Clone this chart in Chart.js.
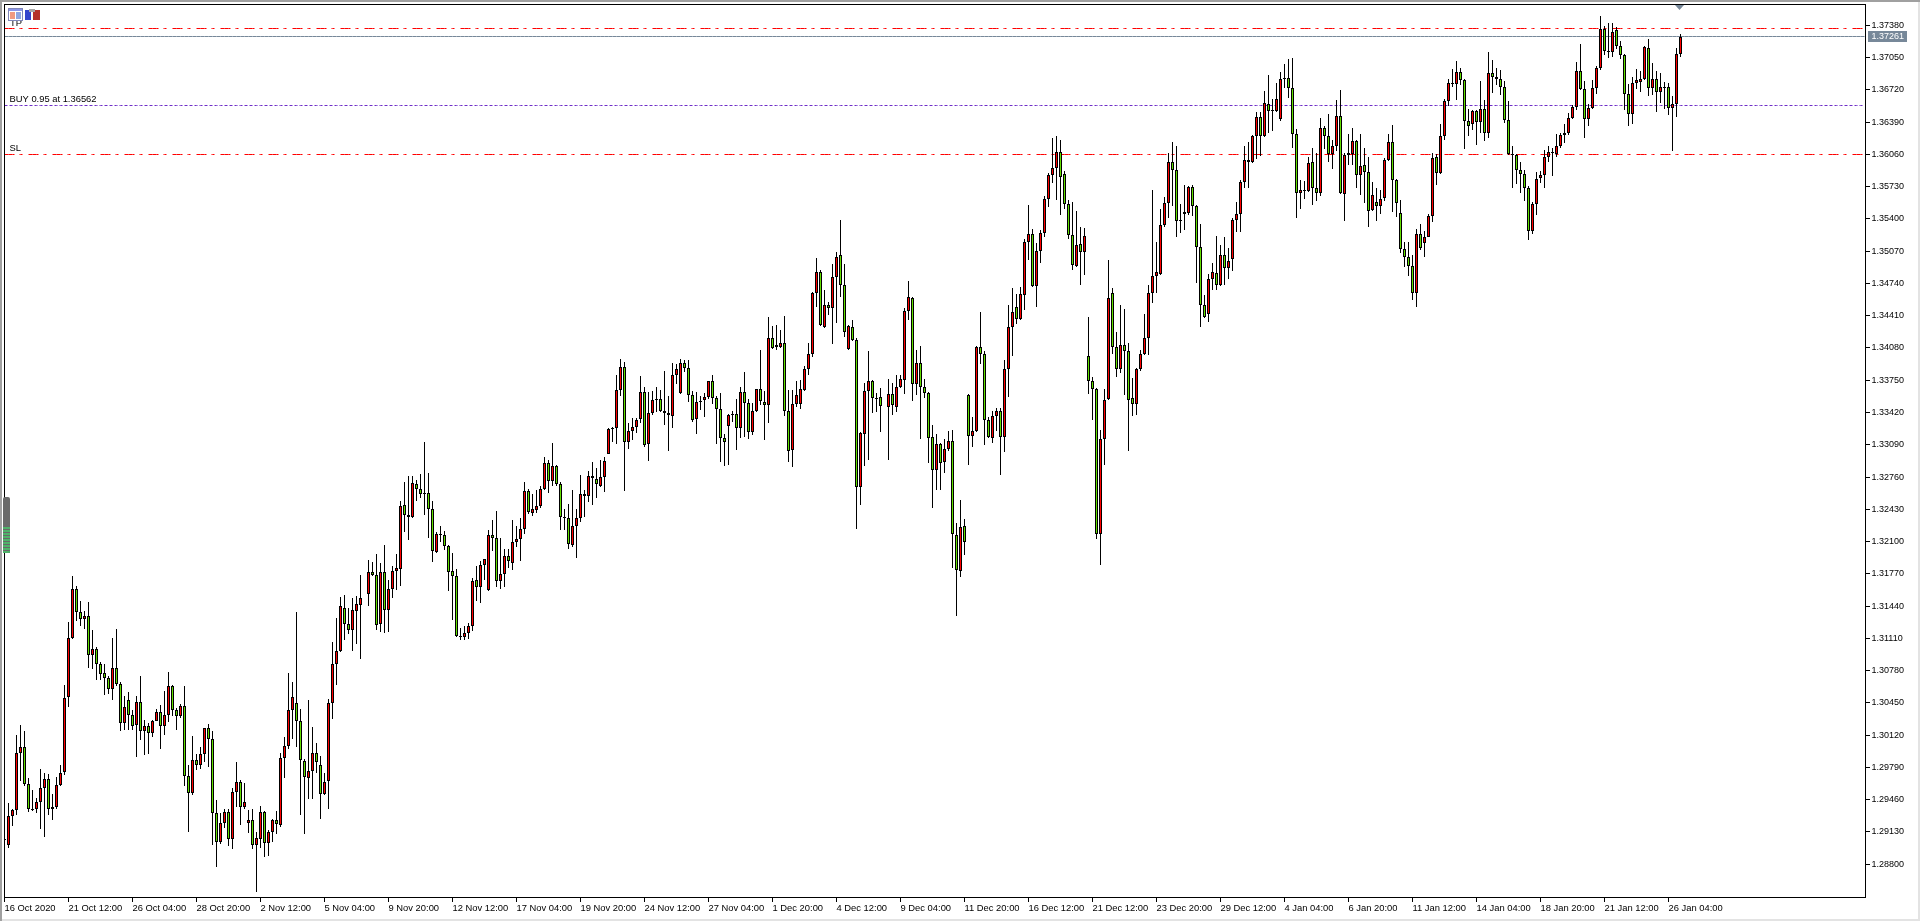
<!DOCTYPE html>
<html>
<head>
<meta charset="utf-8">
<title>USDCAD H4</title>
<style>
  html, body { margin: 0; padding: 0; background: #fff; }
  canvas { display: block; }
</style>
<script src="https://cdn.jsdelivr.net/npm/chart.js@4/dist/chart.umd.min.js"></script>
</head>
<body>
<canvas id="chart" width="1920" height="921"></canvas>
<script>
// candle values, in units of 0.0001 (12906 = 1.2906). null = no bar drawn there
const opens = [
12906,12900,12929,12935,12994,13000,12962,12937,12937,12944,12958,12967,12936,12939,12961,12974,
13051,13111,13161,13138,13131,13134,13094,13100,13085,13076,13070,13059,13081,13064,13024,13048,
13033,13022,13046,13016,13021,13014,13027,13036,13021,13033,13062,13038,13032,13042,12970,12953,
12987,12981,12993,13019,13008,12932,12903,12922,12933,12906,12954,12964,12939,12922,12925,12900,
12906,12933,12902,12913,12925,12920,12989,13001,13038,13045,13027,12986,12968,12975,12994,12982,
12952,12965,13045,13085,13098,13142,13126,13120,13139,13145,null,13156,13179,13176,13126,13179,
13140,13161,13180,13182,13247,13237,13235,13269,13264,13260,13260,13243,13199,13218,13217,13205,
13180,13175,13113,13112,13116,13124,13171,13164,13186,13160,13217,13214,13170,13177,13195,13188,
13210,13213,13223,13262,13239,13242,13246,13264,13290,13272,13287,13269,13235,13234,13207,13226,
13234,13259,13257,13277,13274,13267,13276,13300,13326,13326,13365,13389,13312,13323,13327,13335,
13363,13310,13342,13356,13356,13344,13342,13338,13380,13362,13393,13388,13360,13335,13354,13355,
13358,13374,13357,13346,13316,13328,13340,13340,13326,13363,13352,13322,13344,13366,13353,13350,
13418,13411,13409,13413,13344,13304,13351,13351,13365,13387,13402,13464,13486,13429,13452,13449,
13481,13503,13472,13407,13429,13416,13266,13320,13364,13374,13357,13358,null,13348,13361,13348,
13368,13375,13446,13459,13371,13393,13368,13362,13317,13283,13310,13291,13305,13313,13217,13180,
13226,13360,13318,13323,13409,13402,13334,13316,13338,13344,13317,13386,13429,13450,13438,13462,
13516,13525,13471,13507,13526,13560,13585,13592,13608,13586,13555,13524,13492,13514,13506,13400,
13374,13366,13218,13315,13356,13464,13409,13387,13411,13405,13357,13351,13387,13402,13418,13464,
13482,13484,13534,13556,13598,13590,13539,13545,13546,13573,13553,13511,13452,13443,13479,13485,
13472,13503,13490,13499,13539,13545,13578,13600,13598,13625,13644,13625,13658,13651,13650,13642,
13684,13684,13674,13627,13566,13570,13569,13598,13572,13567,13633,13625,13606,13615,13645,13565,
13605,13606,13620,13585,13595,13588,13549,13557,13553,13561,13600,13619,13580,13546,13509,13501,
13492,13464,13525,13515,13522,13543,13603,13587,13625,13661,13679,13678,13690,13682,13640,13637,
13650,13639,13652,13628,13689,13685,13683,13675,13641,13606,13605,13590,13586,13572,13528,13555,
13582,13585,13603,13608,13606,13615,13626,13628,13643,13654,13691,13673,13642,13653,13674,13694,
13734,13712,13711,13733,13717,13708,13668,13647,13679,13680,13683,13715,13674,13683,13670,13675,
13675,13653,13658,13709
];
const highs = [
12907,12943,12937,13012,13022,13016,12968,12956,12948,12977,12973,12972,12952,12969,12981,13063,
13128,13175,13165,13149,13139,13148,13120,13102,13087,13085,13073,13111,13121,13066,13052,13056,
13038,13052,13073,13028,13024,13028,13039,13043,13057,13077,13063,13040,13044,13062,12981,13011,
12993,13000,13019,13023,13016,12946,12932,12937,12937,12958,12985,12966,12963,12935,12937,12913,
12940,12934,12915,12926,12934,12994,13010,13076,13066,13138,13039,12988,13048,13020,13004,12991,
12973,13049,13107,13132,13153,13155,13142,13152,13154,13176,null,13191,13189,13197,13188,13206,
13171,13185,13197,13252,13271,13277,13277,13273,13279,13312,13280,13251,13220,13226,13221,13206,
13198,13182,13122,13124,13127,13173,13185,13190,13192,13222,13232,13241,13214,13202,13202,13232,
13226,13234,13271,13264,13259,13263,13267,13296,13293,13311,13288,13271,13243,13248,13263,13243,
13278,13263,13282,13291,13285,13293,13296,13326,13327,13380,13397,13394,13331,13336,13336,13379,
13368,13363,13364,13368,13365,13384,13359,13393,13392,13397,13396,13396,13364,13363,13359,13362,
13374,13380,13359,13362,13320,13340,13344,13356,13368,13383,13356,13352,13366,13406,13364,13440,
13430,13431,13426,13441,13365,13365,13374,13375,13390,13413,13465,13500,13488,13467,13455,13494,
13506,13539,13494,13431,13437,13418,13322,13372,13405,13375,13362,13367,null,13376,13372,13380,
13380,13449,13477,13460,13406,13410,13376,13363,13329,13320,13311,13315,13323,13324,13229,13253,
13233,13361,13337,13410,13445,13405,13337,13344,13347,13347,13396,13452,13469,13463,13470,13519,
13554,13530,13515,13529,13563,13587,13623,13625,13621,13589,13559,13557,13548,13532,13531,13440,
13378,13367,13324,13366,13498,13469,13424,13452,13448,13413,13377,13388,13406,13443,13472,13570,
13516,13550,13562,13607,13619,13615,13555,13575,13574,13575,13554,13535,13462,13484,13495,13523,
13513,13521,13510,13541,13557,13580,13615,13619,13626,13649,13649,13671,13687,13663,13679,13690,
13698,13704,13705,13632,13580,13579,13603,13613,13607,13643,13635,13647,13621,13662,13672,13607,
13627,13633,13621,13627,13613,13603,13578,13572,13570,13602,13627,13636,13581,13559,13516,13516,
13503,13530,13535,13528,13545,13607,13606,13637,13663,13683,13693,13701,13694,13683,13652,13651,
13651,13681,13662,13711,13702,13694,13692,13681,13661,13615,13606,13598,13590,13574,13557,13588,
13589,13610,13615,13613,13627,13628,13637,13648,13656,13700,13719,13681,13658,13682,13696,13747,
13737,13740,13740,13736,13722,13709,13678,13685,13693,13691,13717,13724,13699,13691,13689,13680,
13679,13666,13715,13729
];
const lows = [
12904,12897,12919,12930,12965,12960,12933,12934,12932,12916,12908,12930,12925,12937,12960,12971,
13041,13110,13129,13124,13121,13081,13080,13068,13068,13053,13054,13048,13062,13016,13017,13017,
13017,12990,13007,12992,12993,13010,13026,12998,13012,13025,13032,13017,13030,12960,12913,12951,
12976,12977,12985,12979,12900,12877,12901,12917,12899,12896,12939,12920,12936,12912,12896,12852,
12897,12887,12888,12903,12911,12918,12968,12998,13008,13000,12930,12911,12947,12947,12973,12926,
12951,12936,13029,13063,13097,13109,13115,13098,13105,13090,null,13144,13175,13120,13118,13116,
13118,13152,13160,13165,13220,13212,13234,13251,13255,13237,13214,13189,13198,13210,13201,13159,
13130,13112,13109,13109,13110,13119,13149,13147,13171,13159,13200,13164,13162,13164,13183,13181,
13204,13190,13218,13238,13236,13239,13244,13263,13260,13267,13267,13222,13222,13202,13204,13193,
13230,13235,13250,13247,13255,13266,13261,13300,13312,13310,13359,13262,13305,13314,13321,13331,
13307,13292,13339,13343,13343,13329,13303,13326,13371,13361,13383,13353,13332,13320,13345,13337,
13356,13351,13310,13291,13287,13288,13332,13304,13316,13317,13315,13319,13343,13350,13314,13331,
13407,13406,13408,13338,13291,13286,13348,13346,13364,13380,13399,13450,13430,13428,13442,13412,
13434,13460,13419,13406,13415,13223,13247,13287,13293,13341,13343,13322,null,13293,13339,13343,
13367,13361,13437,13354,13360,13315,13357,13290,13244,13263,13263,13280,13303,13183,13134,13174,
13196,13288,13307,13322,13392,13309,13316,13311,13323,13278,13302,13358,13400,13433,13437,13447,
13498,13470,13450,13495,13521,13552,13577,13559,13544,13550,13519,13488,13491,13472,13483,13361,
13334,13213,13186,13288,13355,13402,13378,13382,13360,13303,13338,13339,13384,13401,13401,13454,
13464,13483,13532,13541,13553,13522,13526,13529,13544,13543,13474,13429,13439,13435,13467,13467,
13471,13472,13479,13487,13527,13527,13572,13572,13597,13601,13604,13624,13628,13630,13649,13640,
13674,13664,13613,13541,13550,13560,13568,13554,13558,13563,13612,13598,13591,13609,13565,13538,
13595,13595,13572,13564,13556,13532,13548,13538,13545,13558,13599,13547,13542,13505,13491,13482,
13457,13450,13508,13501,13521,13537,13575,13586,13621,13655,13675,13662,13677,13611,13625,13631,
13616,13628,13620,13623,13669,13677,13667,13638,13605,13572,13576,13566,13558,13518,13525,13544,
13577,13572,13598,13584,13603,13613,13618,13626,13642,13651,13672,13623,13635,13652,13668,13692,
13708,13705,13706,13714,13704,13651,13635,13637,13673,13670,13682,13666,13667,13649,13659,13652,
13646,13609,13644,13706
];
const closes = [
12905,12929,12935,12994,13000,12962,12937,12936,12944,12958,12967,12936,12939,12961,12973,13050,
13111,13161,13138,13131,13134,13094,13100,13085,13075,13070,13059,13081,13064,13024,13041,13033,
13021,13046,13016,13021,13014,13027,13036,13021,13033,13062,13038,13032,13042,12970,12953,12987,
12981,12993,13019,13008,12932,12903,12922,12933,12906,12954,12964,12939,12944,12925,12900,12907,
12933,12902,12913,12925,12921,12989,13001,13038,13051,13026,12987,12969,12975,12994,12985,12952,
12964,13045,13085,13098,13144,13126,13120,13140,13146,13152,null,13179,13176,13125,13179,13140,
13161,13180,13183,13246,13237,13235,13270,13264,13259,13259,13243,13200,13218,13217,13205,13179,
13175,13113,13113,13116,13124,13170,13164,13186,13192,13217,13214,13170,13177,13195,13190,13210,
13213,13223,13262,13240,13243,13246,13264,13290,13272,13287,13269,13235,13234,13208,13226,13234,
13259,13257,13277,13275,13269,13276,13292,13325,13325,13365,13389,13312,13323,13327,13334,13363,
13309,13342,13355,13355,13344,13342,13339,13380,13387,13393,13388,13360,13334,13353,13353,13358,
13374,13357,13346,13316,13312,13339,13339,13326,13363,13352,13322,13344,13366,13354,13350,13418,
13408,13409,13413,13344,13303,13351,13360,13366,13387,13402,13464,13486,13431,13452,13449,13481,
13501,13472,13424,13430,13416,13266,13321,13364,13374,13357,13356,13349,null,13361,13350,13368,
13376,13446,13460,13371,13393,13368,13362,13316,13283,13310,13290,13305,13313,13218,13181,13225,
13210,13318,13323,13409,13402,13334,13317,13338,13344,13317,13386,13429,13445,13438,13463,13516,
13525,13471,13507,13526,13560,13585,13592,13608,13583,13555,13524,13493,13513,13506,13523,13374,
13366,13218,13315,13355,13459,13409,13387,13411,13405,13355,13351,13387,13402,13418,13464,13482,
13486,13534,13556,13598,13590,13538,13538,13547,13573,13553,13511,13452,13440,13479,13486,13472,
13503,13490,13497,13539,13545,13578,13600,13598,13625,13644,13625,13659,13650,13650,13663,13683,
13683,13674,13627,13566,13570,13569,13597,13572,13567,13633,13625,13606,13615,13645,13566,13605,
13607,13620,13585,13594,13588,13548,13564,13553,13560,13600,13619,13580,13556,13509,13501,13492,
13464,13525,13510,13522,13543,13602,13587,13625,13661,13679,13678,13690,13682,13640,13635,13650,
13639,13652,13628,13689,13685,13683,13675,13641,13606,13605,13590,13586,13572,13528,13555,13581,
13585,13603,13608,13607,13615,13626,13628,13643,13654,13691,13673,13642,13653,13674,13694,13734,
13712,13711,13731,13717,13708,13668,13647,13679,13682,13683,13716,13674,13683,13670,13675,13675,
13653,13658,13709,13726
];

// one label every 16 bars
const dateLabels = ['16 Oct 2020','21 Oct 12:00','26 Oct 04:00','28 Oct 20:00','2 Nov 12:00','5 Nov 04:00','9 Nov 20:00',
  '12 Nov 12:00','17 Nov 04:00','19 Nov 20:00','24 Nov 12:00','27 Nov 04:00','1 Dec 20:00','4 Dec 12:00','9 Dec 04:00',
  '11 Dec 20:00','16 Dec 12:00','21 Dec 12:00','23 Dec 20:00','29 Dec 12:00','4 Jan 04:00','6 Jan 20:00','11 Jan 12:00',
  '14 Jan 04:00','18 Jan 20:00','21 Jan 12:00','26 Jan 04:00'];
const priceTicks = [1.37380,1.37050,1.36720,1.36390,1.36060,1.35730,1.35400,1.35070,1.34740,1.34410,1.34080,1.33750,1.33420,
  1.33090,1.32760,1.32430,1.32100,1.31770,1.31440,1.31110,1.30780,1.30450,1.30120,1.29790,1.29460,1.29130,1.28800];

const tpLevel = 1.3735;
const buyLevel = 1.36562;
const slLevel = 1.3606;
const bidLevel = 1.37261;

const BAR_SLOTS = 466; // bars + empty space on the right of the last one
const labels = [];
for (let i = 0; i < BAR_SLOTS; i++) labels.push(i % 16 === 0 && dateLabels[i / 16] ? dateLabels[i / 16] : '');

const RED = '#ff0000';
const GREEN = '#62df00';
const FONT = '"Liberation Sans"';

function levelLine(value, color, dash) {
  return {
    type: 'line', order: 3, data: labels.map(() => value),
    borderColor: color, borderWidth: 1, borderDash: dash, pointRadius: 0, fill: false
  };
}

const overlay = {
  id: 'overlay',
  beforeDatasetsDraw(chart) {
    // keep candles and lines on whole pixels like the terminal does
    chart.getSortedVisibleDatasetMetas().forEach(meta => {
      meta.data.forEach(el => {
        if (meta.type === 'line') {
          el.y = Math.floor(el.y) + 0.5;
        } else {
          el.y = Math.round(el.y);
          el.base = Math.round(el.base);
          if (el.y === el.base) el.base = el.y + 1;
        }
      });
    });
  },
  afterDraw(chart) {
    const ctx = chart.ctx;
    const x = chart.scales.x;
    const y = chart.scales.y;
    ctx.save();

    // window edge
    ctx.fillStyle = '#a0a0a0';
    ctx.fillRect(0, 0, 1920, 2);
    ctx.fillRect(0, 0, 2, 921);
    ctx.fillStyle = '#e3e3e3';
    ctx.fillRect(1918, 2, 2, 919);
    ctx.fillRect(2, 919, 1918, 2);

    // chart frame and tick marks
    ctx.strokeStyle = '#000';
    ctx.lineWidth = 1;
    ctx.strokeRect(4.5, 4.5, 1861, 893);
    ctx.fillStyle = '#000';
    dateLabels.forEach((d, i) => {
      ctx.fillRect(Math.floor(x.getPixelForValue(i * 16)), 898, 1, 4);
    });
    priceTicks.forEach(p => {
      ctx.fillRect(1866, Math.floor(y.getPixelForValue(p)), 4, 1);
    });

    // object labels
    ctx.font = '9.4px ' + FONT;
    ctx.textAlign = 'left';
    ctx.textBaseline = 'alphabetic';
    ctx.fillText('TP', 10, 26);
    ctx.fillText('BUY 0.95 at 1.36562', 9.5, 102);
    ctx.fillText('SL', 9.5, 151);

    // current price tag
    ctx.fillStyle = '#778899';
    ctx.fillRect(1868, 31, 39, 11);
    ctx.fillStyle = '#fff';
    ctx.font = '9px ' + FONT;
    ctx.textBaseline = 'middle';
    ctx.fillText(bidLevel.toFixed(5), 1871.5, y.getPixelForValue(bidLevel) - 0.3);

    // marker on the top edge over the last bar
    ctx.fillStyle = '#778899';
    ctx.beginPath();
    ctx.moveTo(1675, 5);
    ctx.lineTo(1684, 5);
    ctx.lineTo(1679.5, 10);
    ctx.closePath();
    ctx.fill();

    // toolbar icons top left
    ctx.fillStyle = '#fff';
    ctx.fillRect(8, 8, 15, 13);
    ctx.strokeStyle = '#7f86b8';
    ctx.strokeRect(8.5, 8.5, 14, 12);
    ctx.fillStyle = '#8c96e8';
    ctx.fillRect(9, 9, 13, 2);
    ctx.fillStyle = '#f09a80';
    ctx.fillRect(10, 12, 5, 7);
    ctx.fillStyle = '#8fa6e0';
    ctx.fillRect(16, 12, 5, 7);
    ctx.fillStyle = '#3344cc';
    ctx.fillRect(25, 10, 6, 10);
    ctx.fillStyle = '#b5322a';
    ctx.fillRect(33, 10, 7, 10);
    ctx.fillStyle = '#a8a8a8';
    ctx.fillRect(29, 9, 6, 3);

    // one-click slider on the left edge
    ctx.fillStyle = '#6a6a6a';
    ctx.beginPath();
    ctx.roundRect(3, 497, 7, 56, 2);
    ctx.fill();
    ctx.fillStyle = '#4fb36a';
    for (let row = 527; row < 552; row += 3) ctx.fillRect(3, row, 7, 2);
    ctx.fillStyle = '#000';
    ctx.fillRect(4, 470, 1, 27);
    ctx.restore();
  }
};

new Chart(document.getElementById('chart'), {
  type: 'bar',
  data: {
    labels,
    datasets: [
      levelLine(tpLevel, RED, [10, 5, 3, 6]),
      levelLine(bidLevel, '#778899', []),
      levelLine(buyLevel, '#6f2fc8', [3, 2]),
      levelLine(slLevel, RED, [10, 5, 3, 6]),
      {
        // wicks
        order: 2, grouped: false, barPercentage: 1, maxBarThickness: 1,
        data: highs.map((h, i) => h === null ? null : [lows[i] / 10000, h / 10000]),
        backgroundColor: '#000', borderWidth: 0
      },
      {
        // bodies
        order: 1, grouped: false, barPercentage: 1, maxBarThickness: 3,
        data: opens.map((o, i) => o === null ? null : [o / 10000, closes[i] / 10000]),
        backgroundColor: opens.map((o, i) => closes[i] >= o ? RED : GREEN),
        borderColor: '#000', borderWidth: 1, borderSkipped: false
      }
    ]
  },
  plugins: [overlay],
  options: {
    responsive: false,
    animation: false,
    events: [],
    layout: { padding: { left: 4.5, top: 4.5, right: 0, bottom: 0 } },
    plugins: { legend: { display: false }, tooltip: { enabled: false } },
    scales: {
      x: {
        type: 'category',
        offset: false,
        border: { display: false },
        grid: { offset: false, drawOnChartArea: false, tickLength: 4, tickColor: 'transparent' },
        ticks: {
          autoSkip: false, maxRotation: 0, minRotation: 0, align: 'start', padding: 1, color: '#000',
          font: { family: FONT, size: 9.4 },
          callback(value) { return this.getLabelForValue(value) || null; }
        },
        afterFit(s) { s.height = 23.5; s.paddingLeft = 0; s.paddingRight = 0; }
      },
      y: {
        position: 'right',
        min: 1.2846,
        max: 1.375927,
        border: { display: false },
        grid: { drawOnChartArea: false, tickLength: 4, tickColor: 'transparent' },
        ticks: {
          padding: 3, color: '#000',
          font: { family: FONT, size: 9 },
          callback: v => v.toFixed(5)
        },
        afterBuildTicks(s) { s.ticks = priceTicks.map(v => ({ value: v })); },
        afterFit(s) { s.width = 55.5; s.paddingTop = 0; s.paddingBottom = 0; }
      }
    }
  }
});
</script>
</body>
</html>
